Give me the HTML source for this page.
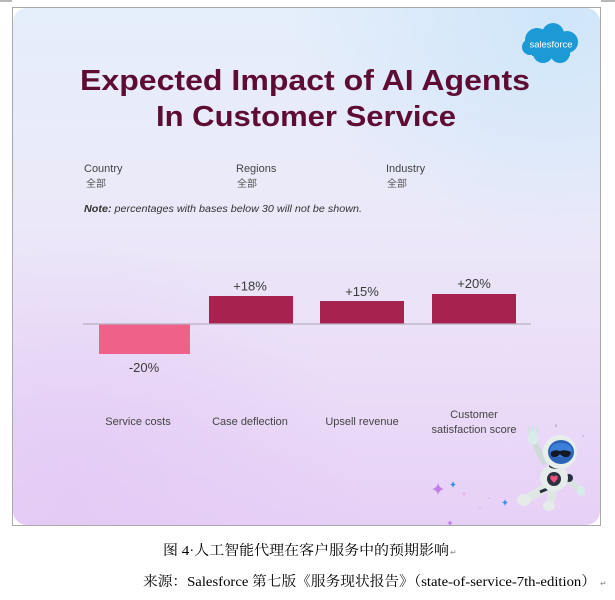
<!DOCTYPE html>
<html>
<head>
<meta charset="utf-8">
<style>
  html, body { margin: 0; padding: 0; background: #ffffff; }
  body { width: 615px; height: 600px; overflow: hidden; }
  svg { display: block; }
</style>
</head>
<body>
<svg width="615" height="600" viewBox="0 0 615 600" xmlns="http://www.w3.org/2000/svg">
  <defs>
    <linearGradient id="bg" x1="0" y1="0" x2="0" y2="1">
      <stop offset="0" stop-color="#e5eefb"/>
      <stop offset="0.35" stop-color="#ebeaf9"/>
      <stop offset="0.65" stop-color="#ebe0f8"/>
      <stop offset="1" stop-color="#e7d0f6"/>
    </linearGradient>
    <radialGradient id="blueTR" cx="0.92" cy="0.02" r="0.45">
      <stop offset="0" stop-color="#cfe6f9" stop-opacity="1"/>
      <stop offset="1" stop-color="#cfe6f9" stop-opacity="0"/>
    </radialGradient>
    <radialGradient id="purpleBL" cx="0.1" cy="0.95" r="0.5">
      <stop offset="0" stop-color="#e3c9f5" stop-opacity="0.8"/>
      <stop offset="1" stop-color="#e3c9f5" stop-opacity="0"/>
    </radialGradient>
    <clipPath id="cardclip">
      <rect x="13" y="8" width="587" height="517" rx="14" ry="14"/>
    </clipPath>
  </defs>

  <!-- small top strip artifacts -->
  <rect x="0" y="0" width="12" height="2" fill="#b8b8b8"/>
  <rect x="601" y="0" width="14" height="2" fill="#b8b8b8"/>

  <!-- outer border -->
  <rect x="12.5" y="7.5" width="588" height="518" fill="#ffffff" stroke="#a9a9a9" stroke-width="1"/>

  <!-- card -->
  <g clip-path="url(#cardclip)">
    <rect x="13" y="8" width="587" height="517" fill="url(#bg)"/>
    <rect x="13" y="8" width="587" height="517" fill="url(#blueTR)"/>
    <rect x="13" y="8" width="587" height="517" fill="url(#purpleBL)"/>
  </g>

  <!-- salesforce logo -->
  <g>
    <g fill="#1b9ad6">
      <circle cx="537" cy="40" r="12"/>
      <circle cx="553" cy="34" r="11"/>
      <circle cx="567" cy="42" r="11"/>
      <circle cx="560" cy="53" r="10"/>
      <circle cx="543" cy="53" r="10"/>
      <circle cx="530" cy="47" r="8"/>
      <rect x="532" y="38" width="38" height="18"/>
    </g>
    <text x="551" y="47.5" text-anchor="middle" font-family="Liberation Sans, sans-serif" font-size="9.5" fill="#ffffff" textLength="43" lengthAdjust="spacingAndGlyphs">salesforce</text>
  </g>

  <!-- title -->
  <text x="80" y="90" font-family="Liberation Sans, sans-serif" font-weight="bold" font-size="29" fill="#5e0c33" textLength="450" lengthAdjust="spacingAndGlyphs">Expected Impact of AI Agents</text>
  <text x="156" y="126" font-family="Liberation Sans, sans-serif" font-weight="bold" font-size="29" fill="#5e0c33" textLength="300" lengthAdjust="spacingAndGlyphs">In Customer Service</text>

  <!-- filters -->
  <g font-family="Liberation Sans, sans-serif" font-size="11" fill="#444444">
    <text x="84" y="172">Country</text>
    <text x="236" y="172">Regions</text>
    <text x="386" y="172">Industry</text>
  </g>
  <g font-family="Liberation Sans, 'Noto Sans CJK SC', sans-serif" font-size="10" fill="#555555">
    <text x="86" y="187">全部</text>
    <text x="237" y="187">全部</text>
    <text x="387" y="187">全部</text>
  </g>
  <text x="84" y="212" font-family="Liberation Sans, sans-serif" font-size="10" font-style="italic" fill="#333333" textLength="278" lengthAdjust="spacingAndGlyphs"><tspan font-weight="bold">Note:</tspan> percentages with bases below 30 will not be shown.</text>

  <!-- bars -->
  <rect x="99" y="324" width="91" height="30" fill="#ee6189"/>
  <rect x="209" y="296" width="84" height="28" fill="#a8224f"/>
  <rect x="320" y="301" width="84" height="23" fill="#a8224f"/>
  <rect x="432" y="294" width="84" height="30" fill="#a8224f"/>
  <line x1="83" y1="324" x2="531" y2="324" stroke="#b9afc0" stroke-width="1.2"/>

  <!-- value labels -->
  <g font-family="Liberation Sans, sans-serif" font-size="13" fill="#3a3a3a" text-anchor="middle">
    <text x="144" y="372">-20%</text>
    <text x="250" y="290.5">+18%</text>
    <text x="362" y="296">+15%</text>
    <text x="474" y="288">+20%</text>
  </g>

  <!-- category labels -->
  <g font-family="Liberation Sans, sans-serif" font-size="11" fill="#444444" text-anchor="middle">
    <text x="138" y="425">Service costs</text>
    <text x="250" y="425">Case deflection</text>
    <text x="362" y="425">Upsell revenue</text>
    <text x="474" y="418">Customer</text>
    <text x="474" y="433">satisfaction score</text>
  </g>

  <!-- sparkles -->
  <g>
    <path d="M438 483 Q439 488 444 489 Q439 490 438 495 Q437 490 432 489 Q437 488 438 483 Z" fill="#c27de6"/>
    <path d="M453 481 Q453.6 484 456 484.5 Q453.6 485 453 488 Q452.4 485 450 484.5 Q452.4 484 453 481 Z" fill="#3b8ee8"/>
    <path d="M505 499 Q505.6 502 508 502.5 Q505.6 503 505 506 Q504.4 503 502 502.5 Q504.4 502 505 499 Z" fill="#3b8ee8"/>
    <path d="M464 491 Q464.5 493.5 467 494 Q464.5 494.5 464 497 Q463.5 494.5 461 494 Q463.5 493.5 464 491 Z" fill="#e6b8ee"/>
    <path d="M450 520 Q450.6 522.5 453 523 Q450.6 523.5 450 526 Q449.4 523.5 447 523 Q449.4 522.5 450 520 Z" fill="#c27de6"/>
    <circle cx="489" cy="498" r="0.8" fill="#cfb0e8"/>
    <circle cx="480" cy="508" r="0.8" fill="#cfb0e8"/>
    <circle cx="556" cy="425" r="1" fill="#c9b9d9"/>
    <circle cx="583" cy="436" r="1" fill="#c9b9d9"/>
  </g>

  <!-- robot -->
  <g>
    <!-- raised arm -->
    <path d="M536 446 L544 462" stroke="#cfdad8" stroke-width="6" stroke-linecap="round"/>
    <ellipse cx="533" cy="438" rx="5" ry="7" fill="#d9ece9"/>
    <path d="M529 432 l0 -4 M533 431 l0 -5 M537 432 l0 -4" stroke="#cde4e2" stroke-width="2" stroke-linecap="round"/>
    <!-- legs -->
    <path d="M545 488 L530 497" stroke="#dfe6e4" stroke-width="9" stroke-linecap="round"/>
    <ellipse cx="524" cy="500" rx="7" ry="6" fill="#e4ebe9"/>
    <path d="M553 490 L550 503" stroke="#dfe6e4" stroke-width="8" stroke-linecap="round"/>
    <ellipse cx="549" cy="506" rx="6" ry="5" fill="#e4ebe9"/>
    <path d="M540 492 L547 489" stroke="#2b3140" stroke-width="3"/>
    <!-- right arm -->
    <path d="M566 478 L578 488" stroke="#d9e2e0" stroke-width="6" stroke-linecap="round"/>
    <circle cx="569" cy="478" r="4" fill="#2b3140"/>
    <ellipse cx="581" cy="491" rx="4" ry="5" fill="#d6ecea"/>
    <!-- body -->
    <ellipse cx="554" cy="478" rx="14" ry="13" fill="#e6ecea"/>
    <ellipse cx="554" cy="479" rx="7" ry="7" fill="#2b3140"/>
    <path d="M554 483 L550.5 479 Q549.5 476 552 475.5 Q553.5 475.5 554 477 Q554.5 475.5 556 475.5 Q558.5 476 557.5 479 Z" fill="#f0507f"/>
    <!-- neck -->
    <ellipse cx="557" cy="466" rx="8" ry="3" fill="#2b3140"/>
    <!-- head -->
    <circle cx="560" cy="452" r="17" fill="#e8eeec"/>
    <ellipse cx="561" cy="452" rx="13" ry="12" fill="#2d64b8"/>
    <ellipse cx="561" cy="450" rx="11" ry="7" fill="#3c7fd8"/>
    <path d="M551 452 Q555 449 560 451 Q565 449 571 452 Q570 458 565 457 Q561 456 560 454 Q558 457 554 457 Q550 457 551 452 Z" fill="#121826"/>
    <circle cx="556" cy="426" r="1.2" fill="#c8b6d8"/>
  </g>

  <!-- captions -->
  <text x="163" y="555" font-family="Liberation Serif, 'Noto Serif CJK SC', serif" font-size="14" fill="#000000" textLength="286" lengthAdjust="spacingAndGlyphs">图 4·人工智能代理在客户服务中的预期影响</text>
  <text x="450" y="555" font-family="Liberation Sans, sans-serif" font-size="8" fill="#8a8a8a">↵</text>
  <text x="143" y="586" font-family="Liberation Serif, 'Noto Serif CJK SC', serif" font-size="14" fill="#000000" textLength="453" lengthAdjust="spacingAndGlyphs">来源：Salesforce 第七版《服务现状报告》（state-of-service-7th-edition）</text>
  <text x="600" y="586" font-family="Liberation Sans, sans-serif" font-size="8" fill="#8a8a8a">↵</text>
</svg>
</body>
</html>
